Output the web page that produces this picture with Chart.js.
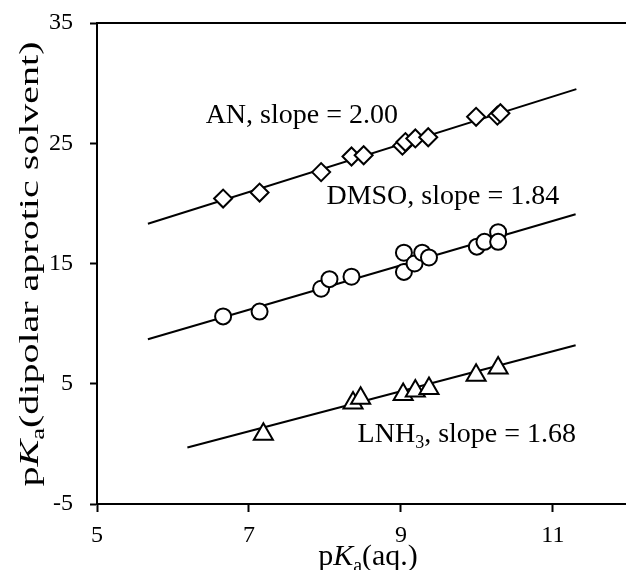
<!DOCTYPE html>
<html>
<head>
<meta charset="utf-8">
<script src="https://cdn.jsdelivr.net/npm/chart.js@4.4.1/dist/chart.umd.min.js"></script>
<style>
    html, body { margin: 0; padding: 0; background: #fff; }
    #wrap { width: 638px; height: 570px; position: relative; }
</style>
</head>
<body>
<div id="wrap"><canvas id="pkaChart"></canvas></div>
<script>
// tick values
const xTicks = [5, 7, 9, 11];
const yTicks = [-5, 5, 15, 25, 35];

// AN (diamonds)
const anX = [6.66, 7.14, 7.95, 8.35, 8.51, 9.02, 9.06, 9.19, 9.36, 9.99, 10.27, 10.31];
const anY = [20.4, 20.9, 22.6, 23.9, 24.0, 24.8, 25.1, 25.4, 25.5, 27.2, 27.3, 27.5];
// DMSO (circles)
const dmsoX = [6.66, 7.14, 7.95, 8.06, 8.35, 9.04, 9.04, 9.18, 9.28, 9.37, 10.0, 10.1, 10.28, 10.28];
const dmsoY = [10.6, 11.0, 12.9, 13.7, 13.9, 15.9, 14.3, 15.0, 15.9, 15.5, 16.4, 16.8, 17.6, 16.8];
// LNH3 (triangles)
const lnh3X = [7.19, 8.37, 8.47, 9.03, 9.19, 9.37, 9.99, 10.28];
const lnh3Y = [0.8, 3.4, 3.8, 4.1, 4.4, 4.6, 5.7, 6.3];

// fitted lines (end points)
const anFitX = [5.67, 11.31];
const anFitY = [18.3, 29.5];
const dmsoFitX = [5.67, 11.3];
const dmsoFitY = [8.7, 19.1];
const lnh3FitX = [6.19, 11.3];
const lnh3FitY = [-0.3, 8.2];

// slope labels, anchored at their left baseline in data units
const labelParts = [
    [{ t: 'AN, slope = 2.00' }],
    [{ t: 'DMSO, slope = 1.84' }],
    [{ t: 'LNH' }, { t: '3', sub: true }, { t: ', slope = 1.68' }]
];
const labelX = [6.43, 8.02, 8.43];
const labelY = [26.69, 19.95, 0.17];

const FONT = '"Liberation Serif", "Times New Roman", serif';

function toPoints(xs, ys) {
    return xs.map((x, i) => ({ x: x, y: ys[i] }));
}

function partFont(p, size) {
    const s = p.sub ? Math.round(size * 0.65) : size;
    return (p.italic ? 'italic ' : '') + s + 'px ' + FONT;
}

function measureParts(ctx, parts, size) {
    let w = 0;
    parts.forEach(p => {
        ctx.font = partFont(p, size);
        w += ctx.measureText(p.t).width;
    });
    return w;
}

function drawParts(ctx, parts, x, y, size) {
    ctx.textAlign = 'left';
    ctx.textBaseline = 'alphabetic';
    parts.forEach(p => {
        ctx.font = partFont(p, size);
        ctx.fillText(p.t, x, p.sub ? y + size * 0.22 : y);
        x += ctx.measureText(p.t).width;
    });
}

const textPlugin = {
    id: 'textPlugin',
    afterDraw(chart) {
        const ctx = chart.ctx;
        const xs = chart.scales.x;
        const ys = chart.scales.y;
        ctx.save();
        ctx.fillStyle = '#000';

        // slope labels
        labelParts.forEach((parts, i) => {
            drawParts(ctx, parts, xs.getPixelForValue(labelX[i]), ys.getPixelForValue(labelY[i]), 28);
        });

        // x title
        const xParts = [{ t: 'p' }, { t: 'K', italic: true }, { t: 'a', sub: true }, { t: '(aq.)' }];
        const xw = measureParts(ctx, xParts, 30);
        drawParts(ctx, xParts, 368 - xw / 2, 565, 30);

        // y title (stretched along its length, as in the source figure)
        const yParts = [{ t: 'p' }, { t: 'K', italic: true }, { t: 'a', sub: true }, { t: '(dipolar aprotic solvent)' }];
        const yw = measureParts(ctx, yParts, 27);
        const stretch = 445 / yw;
        ctx.translate(38, 264);
        ctx.rotate(-Math.PI / 2);
        ctx.scale(stretch, 1);
        drawParts(ctx, yParts, -yw / 2, 0, 27);
        ctx.restore();
    }
};

const ctx = document.getElementById('pkaChart').getContext('2d');

new Chart(ctx, {
    type: 'scatter',
    data: {
        datasets: [
            {
                label: 'AN',
                data: toPoints(anX, anY),
                pointStyle: 'rectRot',
                pointRadius: 9,
                pointBorderWidth: 2,
                borderColor: '#000',
                backgroundColor: '#fff'
            },
            {
                label: 'DMSO',
                data: toPoints(dmsoX, dmsoY),
                pointStyle: 'circle',
                pointRadius: 8,
                pointBorderWidth: 2,
                borderColor: '#000',
                backgroundColor: '#fff'
            },
            {
                label: 'LNH3',
                data: toPoints(lnh3X, lnh3Y),
                pointStyle: 'triangle',
                pointRadius: 11,
                pointBorderWidth: 2,
                borderColor: '#000',
                backgroundColor: '#fff'
            },
            {
                type: 'line',
                label: 'AN fit',
                data: toPoints(anFitX, anFitY),
                borderColor: '#000',
                borderWidth: 2,
                pointRadius: 0,
                fill: false
            },
            {
                type: 'line',
                label: 'DMSO fit',
                data: toPoints(dmsoFitX, dmsoFitY),
                borderColor: '#000',
                borderWidth: 2,
                pointRadius: 0,
                fill: false
            },
            {
                type: 'line',
                label: 'LNH3 fit',
                data: toPoints(lnh3FitX, lnh3FitY),
                borderColor: '#000',
                borderWidth: 2,
                pointRadius: 0,
                fill: false
            }
        ]
    },
    options: {
        responsive: true,
        maintainAspectRatio: false,
        animation: false,
        layout: { padding: { left: 0, right: 2, top: 0, bottom: 0 } },
        plugins: {
            legend: { display: false },
            tooltip: { enabled: false }
        },
        scales: {
            x: {
                type: 'linear',
                position: 'bottom',
                min: 5,
                max: 11.95,
                afterBuildTicks: scale => { scale.ticks = xTicks.map(v => ({ value: v })); },
                afterFit: scale => { scale.height = 66; scale.paddingLeft = 0; scale.paddingRight = 0; },
                grid: { drawOnChartArea: false, drawTicks: true, tickLength: 8, tickColor: '#000', tickWidth: 2 },
                border: { display: true, color: '#000', width: 2 },
                ticks: { color: '#000', padding: 9, font: { family: FONT, size: 24 }, maxRotation: 0 }
            },
            xTop: {
                type: 'linear',
                position: 'top',
                min: 5,
                max: 11.95,
                afterFit: scale => { scale.height = 23; scale.paddingLeft = 0; scale.paddingRight = 0; },
                grid: { display: false, drawTicks: false },
                border: { display: true, color: '#000', width: 2 },
                ticks: { display: false }
            },
            y: {
                type: 'linear',
                min: -5,
                max: 35,
                afterBuildTicks: scale => { scale.ticks = yTicks.map(v => ({ value: v })); },
                afterFit: scale => { scale.width = 97; scale.paddingTop = 0; scale.paddingBottom = 0; },
                grid: { drawOnChartArea: false, drawTicks: true, tickLength: 7, tickColor: '#000', tickWidth: 2 },
                border: { display: true, color: '#000', width: 2 },
                ticks: { color: '#000', padding: 17, font: { family: FONT, size: 24 } }
            }
        }
    },
    plugins: [textPlugin]
});
</script>
</body>
</html>
